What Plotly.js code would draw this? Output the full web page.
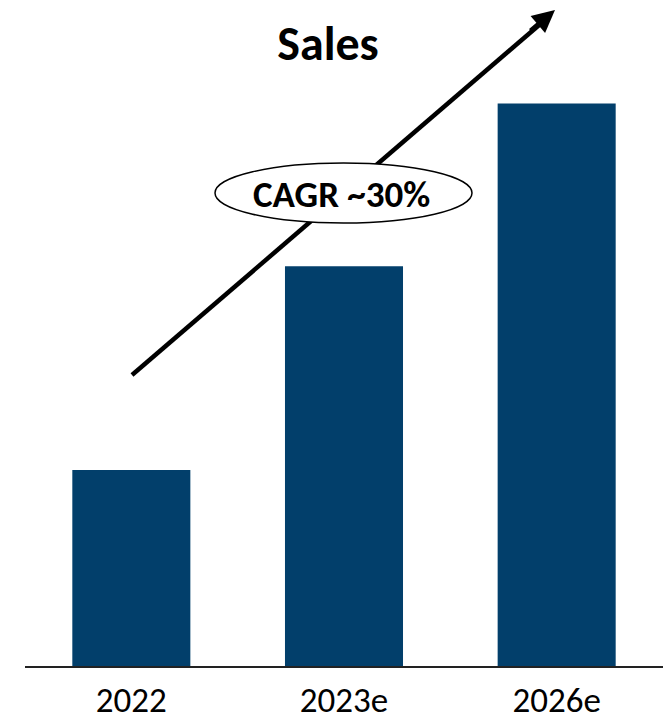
<!DOCTYPE html>
<html>
<head>
<meta charset="utf-8">
<script src="https://cdn.plot.ly/plotly-3.0.1.min.js"></script>
<style>html,body{margin:0;padding:0;background:#fff;}#chart{width:666px;height:720px;}</style>
</head>
<body>
<div id="chart"></div>
<script>
// Data
var categories = ["2022", "2023e", "2026e"];
var salesValues = [100, 204, 287];
var chartTitle = "Sales";
var cagrLabel = "CAGR ~30%";

var W = 666, H = 720;
var M = {l: 25, r: 3, t: 20, b: 54};
var plotW = W - M.l - M.r, plotH = H - M.t - M.b;
function px(x) { return (x - M.l) / plotW; }
function py(y) { return (H - M.b - y) / plotH; }

var font = "Carlito, Lato, 'Liberation Sans', sans-serif";

var trace = {
  type: "bar",
  x: categories,
  y: salesValues,
  marker: {color: "#023F6B"},
  width: 0.555,
  hoverinfo: "none"
};

var layout = {
  width: W, height: H,
  margin: M,
  paper_bgcolor: "#ffffff",
  plot_bgcolor: "rgba(0,0,0,0)",
  showlegend: false,
  title: {
    text: "<b>" + chartTitle + "</b>",
    font: {family: font, size: 48, color: "#000"},
    x: 328 / W, xanchor: "center",
    y: 1 - 43 / H, yanchor: "middle"
  },
  xaxis: {
    type: "category",
    showline: true, linecolor: "#222", linewidth: 1.5,
    showgrid: false, zeroline: false, ticks: "",
    tickfont: {family: font, size: 35, color: "#000"},
    ticklabelstandoff: 2
  },
  yaxis: {
    range: [0, plotH / 1.96],
    visible: false, showgrid: false, zeroline: false
  },
  shapes: [
    {type: "line", xref: "paper", yref: "paper",
     x0: px(132), y0: py(375), x1: px(545), y1: py(20),
     line: {color: "#000", width: 4.5}, layer: "above"},
    {type: "circle", xref: "paper", yref: "paper",
     x0: px(215), x1: px(472), y0: py(223), y1: py(163),
     fillcolor: "#ffffff", line: {color: "#000", width: 1.5}, layer: "above"}
  ],
  annotations: [
    {xref: "paper", yref: "paper", x: px(341), y: py(194),
     text: "<b>" + cagrLabel + "</b>", showarrow: false,
     font: {family: font, size: 37, color: "#000"},
     xanchor: "center", yanchor: "middle"},
    {xref: "paper", yref: "paper", x: px(555), y: py(10),
     axref: "pixel", ayref: "pixel", ax: -26, ay: 22,
     text: "", showarrow: true, arrowhead: 2, arrowsize: 1, arrowwidth: 4.5,
     arrowcolor: "#000", standoff: 0}
  ]
};

Plotly.newPlot("chart", [trace], layout, {displayModeBar: false, staticPlot: true});
</script>
</body>
</html>
